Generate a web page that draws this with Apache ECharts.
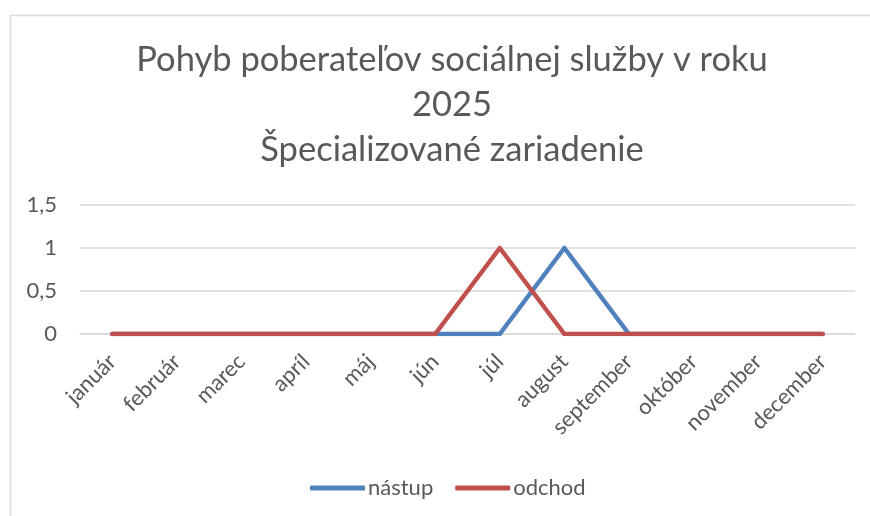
<!DOCTYPE html>
<html><head><meta charset="utf-8">
<script src="https://cdn.jsdelivr.net/npm/echarts@6/dist/echarts.min.js"></script>
<style>html,body{margin:0;padding:0;background:#fff}#c{width:870px;height:516px}</style>
</head><body><div id="c"></div>
<script>
const categories = ['január','február','marec','apríl','máj','jún','júl','august','september','október','november','december'];
const nastup = [0,0,0,0,0,0,0,1,0,0,0,0];
const odchod = [0,0,0,0,0,0,1,0,0,0,0,0];
const titleLines = ['Pohyb poberateľov sociálnej služby v roku','2025','Špecializované zariadenie'];
const seriesNames = ['nástup','odchod'];
const FONT = 'Lato, "Open Sans", sans-serif';
const chart = echarts.init(document.getElementById('c'), null, {renderer:'canvas'});
chart.setOption({
  animation:false,
  backgroundColor:'#fff',
  title:{
    text: titleLines.join('\n'),
    left: 447, top: 32, textAlign:'center',
    textStyle:{fontFamily:FONT, fontSize:34.5, fontWeight:'normal', color:'#595959', lineHeight:45}
  },
  graphic:[{type:'rect', shape:{x:10.5,y:15.5,width:880,height:520}, style:{fill:'none', stroke:'#d9d9d9', lineWidth:1.5}, silent:true}],
  legend:{
    top:472, left:305, itemWidth:55, itemHeight:5, itemGap:22,
    icon:'roundRect',
    textStyle:{fontFamily:FONT, fontSize:22, color:'#595959', padding:[0,0,0,-2]},
    data:seriesNames
  },
  grid:{left:80, right:15, top:205, bottom:182, containLabel:false},
  xAxis:{
    type:'category', data:categories, boundaryGap:true,
    axisLine:{show:true, lineStyle:{color:'#d9d9d9', width:1.5}},
    axisTick:{show:false},
    axisLabel:{rotate:45, fontFamily:FONT, fontSize:22, color:'#595959', margin:24, interval:0}
  },
  yAxis:{
    type:'value', min:0, max:1.5, interval:0.5,
    axisLine:{show:false}, axisTick:{show:false},
    splitLine:{lineStyle:{color:'#d9d9d9', width:1.5}},
    axisLabel:{fontFamily:FONT, fontSize:22, color:'#595959', margin:23,
      formatter:v=>String(v).replace('.',',')}
  },
  series:[
    {name:seriesNames[0], type:'line', data:nastup, symbol:'none', lineStyle:{color:'#4F81BD', width:4.5, cap:'round', join:'round'}, itemStyle:{color:'#4F81BD'}},
    {name:seriesNames[1], type:'line', data:odchod, symbol:'none', lineStyle:{color:'#C0504D', width:4.5, cap:'round', join:'round'}, itemStyle:{color:'#C0504D'}}
  ]
});
</script></body></html>
